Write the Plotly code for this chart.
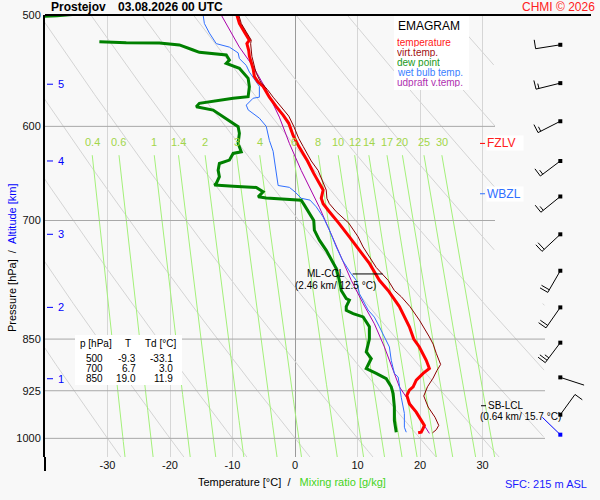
import numpy as np
import plotly.graph_objects as go

# ---------------- data ----------------
STATION = "Prostejov"
RUN_TIME = "03.08.2026 00 UTC"
COPYRIGHT = "CHMI © 2026"

temp_p = [500, 507, 514, 521, 524, 530, 535, 546, 553, 558, 562, 572, 581, 589, 597,
          609, 620, 635, 648, 659, 666, 675, 681, 690, 700, 703, 719, 735, 751, 772,
          785, 806, 833, 850, 861, 880, 892, 899, 909, 919, 924, 932, 945, 958, 971,
          979, 984, 990, 991]
temp_T = [-9.3, -8.9, -8.1, -7.3, -7.7, -7.4, -7.3, -6.7, -6.5, -5.9, -5.1, -4.1, -3.0, -1.9, -1.0,
          -0.3, 0.6, 2.0, 3.0, 3.9, 4.5, 4.2, 4.5, 5.5, 6.7, 7.0, 8.7, 10.3, 11.9, 13.5,
          14.9, 16.7, 18.3, 19.0, 19.9, 21.0, 21.5, 20.5, 19.4, 18.9, 18.3, 17.9, 18.3, 19.4, 20.2,
          20.7, 20.5, 20.2, 19.7]

tv_p = [500, 507, 514, 521, 524, 530, 535, 546, 550, 558, 565, 572, 581, 590, 600,
        612, 620, 635, 645, 659, 666, 675, 681, 690, 703, 719, 731, 756, 772, 785,
        793, 806, 824, 847, 857, 870, 886, 895, 906, 919, 933, 950, 966, 979, 986, 991]
tv_T = [-9.0, -8.6, -7.8, -7.0, -7.1, -7.0, -6.9, -6.4, -6.2, -5.5, -4.4, -3.5, -2.3, -1.0, -0.2,
        0.6, 1.3, 2.6, 3.7, 4.5, 5.0, 5.1, 5.5, 6.6, 8.6, 10.1, 10.9, 13.0, 14.9, 15.9,
        17.0, 18.4, 19.9, 21.5, 22.1, 22.6, 23.3, 22.7, 22.1, 21.2, 20.6, 21.3, 22.4, 23.0, 22.6, 22.0]

dew_p = [498.5, 499.2, 500.6, 501.5, None,
         522.4, 523.2, 523.4, 525.1, 529.5, 531.5, 533.8, 538.3, 541.2, 545.6, 554.6, 562.3,
         571.6, 573.1, 577.8, 581.1, 584.2, 590.6, 597.1, 600.4, 606.9, 617.0, 625.5, 627.2,
         634.1, 637.6, 644.6, 651.6, 658.8, 660.6, 661.7, 663.1, 667.9, 673.4, 674.6, 676.4,
         677.1, 682.6, 695.8, 700, 711.2, 722.9, 735, 746.9, 757.2, 772, 785, 788.9, 795.4,
         797.6, 806, 810.8, 815.2, 819.7, 833, 850, 868, 877.5, 892, 899, 906.8, 919, 929.4,
         950, 971, 990]
dew_T = [-33.0, -34.5, -38.1, -41.5, None,
         -31.3, -27.0, -21.7, -18.5, -16.3, -15.3, -11.0, -10.5, -11.0, -8.9, -7.5, -7.3,
         -7.5, -9.9, -15.3, -15.8, -13.1, -11.5, -9.9, -9.1, -8.9, -9.1, -8.6, -9.9,
         -10.5, -12.1, -12.3, -12.1, -12.6, -12.9, -9.9, -6.2, -5.1, -5.9, -4.6, -0.3,
         1.0, 1.5, 2.6, 3.0, 3.1, 3.9, 5.0, 5.8, 6.6, 7.1, 7.4, 7.7, 8.2,
         8.7, 8.2, 8.2, 9.3, 10.9, 11.9, 11.9, 11.4, 12.2, 11.4, 13.0, 14.6, 15.4, 15.7,
         15.9, 15.9, 16.2]

wb_p = [500, 507, 515, 524, 527, 532, 537, 543, 549, 556, 562, 572, 573, 579.5, 584,
        592, 600, 614, 625, 634, 648, 661, 663, 668, 675, 677, 684.5, 696, 711, 731,
        747, 763, 772, 789, 810.5, 820, 833, 847, 861, 880, 899, 904.5, 919, 935, 960,
        982, 990]
wb_T = [-14.7, -14.5, -13.7, -12.6, -10.5, -9.1, -8.9, -7.8, -7.3, -6.5, -5.7, -5.7, -6.7, -7.8, -7.5,
        -5.7, -4.6, -4.1, -3.5, -3.3, -3.0, -2.7, -0.9, 0.0, 1.0, 2.4, 3.4, 4.5, 5.5, 6.6,
        7.6, 8.9, 9.8, 10.3, 11.7, 12.7, 13.5, 14.3, 15.1, 15.4, 15.9, 16.5, 16.7, 17.0, 17.5,
        17.5, 17.8]

upd_p = [500, 527, 544, 565, 591, 617, 645, 685, 711, 739, 772, 802, 829, 861, 894,
         919, 939, 966, 992]
upd_T = [-11.8, -8.9, -6.7, -4.6, -2.5, -0.9, 1.0, 3.9, 5.5, 7.1, 9.0, 10.9, 12.7, 14.3, 15.7,
         16.7, 18.1, 19.9, 21.5]

mixing_ratios = [0.4, 0.6, 1, 1.4, 2, 3, 4, 6, 8, 10, 12, 14, 17, 20, 25, 30]
theta_C = [-30, -20, -10, 0, 10, 20, 30, 40, 50, 60, 70, 80, 90]
isobars = [600, 700, 850, 925, 1000]
isobar_labels = ["500", "600", "700", "850", "925", "1000"]
isobar_ticks = [500, 600, 700, 850, 925, 1000]
temp_ticks = [-30, -20, -10, 0, 10, 20, 30]

alt_km = [1, 2, 3, 4, 5]
alt_p = [907, 807, 716, 635, 560]

barb_p = [525, 559, 595, 635, 673, 716, 760, 807, 855, 905, 962, 994]
barb_dir = [261, 256, 243, 233, 231, 227, 210, 215, 217, 108, 36, 314]
barb_kt = [10, 15, 15, 15, 15, 20, 20, 20, 25, 0, 10, 0]

table_p = [500, 700, 850]
table_T = [-9.3, 6.7, 19.0]
table_Td = [-33.1, 3.0, 11.9]

fzlv_p = 617
wbzl_p = 670
ccl_km, ccl_T, ccl_p = 2.46, 12.5, 764
lcl_km, lcl_T, lcl_p = 0.64, 15.7, 948
sfc_m = 215

# ---------------- geometry ----------------
W, H = 600, 500
ML, MR, MT, MB = 45, 9, 15, 43
PW, PH = W - ML - MR, H - MT - MB
X_RANGE = [-40, -40 + PW / 6.25]
P_TOP, P_BOT = 500, 1031
XS = PW / (X_RANGE[1] - X_RANGE[0])                # px per degC
YS = PH / (np.log10(P_BOT) - np.log10(P_TOP))      # px per decade
BARB_T = 42.45


def px(x):
    return (x - ML) / PW


def py(y):
    return (MT + PH - y) / PH


def x2T(x):
    return X_RANGE[0] + (x - ML) / XS


def nz(a):
    return [None if (v is None or (isinstance(v, float) and np.isnan(v))) else float(v) for v in a]


def td_from_w(w, p):
    e = w * p / (622.0 + w)
    l = np.log(e / 6.112)
    return 243.5 * l / (17.67 - l)


fig = go.Figure()

# dry adiabats
ax, ay = [], []
pf = np.geomspace(P_TOP, P_BOT, 240)
for th in theta_C:
    T = (th + 273.15) * (pf / 1000.0) ** 0.2857 - 273.15
    tmax = np.where(pf >= 800, 40, 32)
    T = np.where(T <= tmax, T, np.nan)
    ax += nz(T) + [None]
    ay += list(pf) + [None]
fig.add_trace(go.Scatter(x=ax, y=ay, mode="lines", line=dict(color="#d4d4d4", width=1),
                         hoverinfo="skip", connectgaps=False))

# mixing ratio lines
mx, my = [], []
pm = np.geomspace(629, 1040, 60)
for w in mixing_ratios:
    mx += nz(td_from_w(w, pm)) + [None]
    my += list(pm) + [None]
fig.add_trace(go.Scatter(x=mx, y=my, mode="lines", line=dict(color="#a4f07a", width=1),
                         hoverinfo="skip"))

# isobars
for p in isobars:
    tend = 32 if p < 800 else 40
    fig.add_trace(go.Scatter(x=[X_RANGE[0], tend], y=[p, p], mode="lines",
                             line=dict(color="#a8a8a8", width=1), hoverinfo="skip"))

# profiles
fig.add_trace(go.Scatter(x=upd_T, y=upd_p, mode="lines", line=dict(color="#aa00aa", width=1)))
fig.add_trace(go.Scatter(x=wb_T, y=wb_p, mode="lines", line=dict(color="#2f6fff", width=1)))
fig.add_trace(go.Scatter(x=dew_T, y=dew_p, mode="lines", line=dict(color="#008000", width=3),
                         connectgaps=False))
fig.add_trace(go.Scatter(x=temp_T, y=temp_p, mode="lines", line=dict(color="#ff0000", width=3)))
fig.add_trace(go.Scatter(x=tv_T, y=tv_p, mode="lines", line=dict(color="#8b0000", width=1)))

# altitude ticks
for km, p in zip(alt_km, alt_p):
    fig.add_trace(go.Scatter(x=[x2T(47), x2T(53)], y=[p, p], mode="lines",
                             line=dict(color="#0000ff", width=1), hoverinfo="skip"))


# wind barbs
def to_data(p0, dx, dy):
    return BARB_T + dx / XS, p0 * 10 ** (dy / YS)


for i, (p, d, s) in enumerate(zip(barb_p, barb_dir, barb_kt)):
    r = np.deg2rad(d)
    sx, sy = np.sin(r), -np.cos(r)
    fx, fy = -sy, sx
    L = 25.0
    segs = [((0, 0), (sx * L, sy * L))]
    pos = 0.0
    for _ in range(int(s // 10)):
        bx, by = sx * (L - pos), sy * (L - pos)
        segs.append(((bx, by), (bx + fx * 9, by + fy * 9)))
        pos += 3
    if s % 10 >= 5:
        bx, by = sx * (L - pos), sy * (L - pos)
        segs.append(((bx, by), (bx + fx * 5, by + fy * 5)))
    bxs, bys = [], []
    for (a, b) in segs:
        t1, p1 = to_data(p, *a)
        t2, p2 = to_data(p, *b)
        bxs += [t1, t2, None]
        bys += [p1, p2, None]
    col = "#0000ff" if i == len(barb_p) - 1 else "#000000"
    fig.add_trace(go.Scatter(x=bxs, y=bys, mode="lines", line=dict(color=col, width=1),
                             hoverinfo="skip"))
    fig.add_trace(go.Scatter(x=[BARB_T], y=[p], mode="markers",
                             marker=dict(symbol="square", size=4, color=col), hoverinfo="skip"))

# level marks
fig.add_trace(go.Scatter(x=[x2T(480), x2T(485)], y=[fzlv_p, fzlv_p], mode="lines",
                         line=dict(color="#ff0000", width=1)))
fig.add_trace(go.Scatter(x=[x2T(480), x2T(485)], y=[wbzl_p, wbzl_p], mode="lines",
                         line=dict(color="#2f6fff", width=1)))
fig.add_trace(go.Scatter(x=[ccl_T - 20.5 / XS, ccl_T + 9.5 / XS], y=[ccl_p, ccl_p], mode="lines",
                         line=dict(color="#000000", width=1)))
fig.add_trace(go.Scatter(x=[x2T(481), x2T(486)], y=[lcl_p, lcl_p], mode="lines",
                         line=dict(color="#000000", width=1)))

FONT = "Liberation Sans, Arial, sans-serif"
ann = []


def A(text, x, y, size=11, color="#000000", xanchor="left", **kw):
    d = dict(text=text, x=px(x), y=py(y), xref="paper", yref="paper", showarrow=False,
             xanchor=xanchor, yanchor="middle", font=dict(family=FONT, size=size, color=color))
    d.update(kw)
    ann.append(d)


def AP(text, x, p, size=11, color="#000000", xanchor="left", **kw):
    d = dict(text=text, x=px(x), y=np.log10(p), xref="paper", yref="y", showarrow=False,
             xanchor=xanchor, yanchor="middle", font=dict(family=FONT, size=size, color=color))
    d.update(kw)
    ann.append(d)


# titles
A("<b>%s</b>" % STATION, 49, 7, size=12)
A("<b>%s</b>" % RUN_TIME, 116, 7, size=12)
A(COPYRIGHT, 597, 7, size=12, color="#ff2020", xanchor="right")

# legend
A("EMAGRAM", 396, 26, size=12)
for k, (t, c) in enumerate([("temperature", "#ff2020"), ("virt.temp.", "#a01010"),
                            ("dew point", "#1a9a1a"), ("wet bulb temp.", "#3a80ff"),
                            ("udpraft v.temp.", "#b030b0")]):
    A(t, 396, 42 + 10 * k, size=10, color=c, height=10, borderpad=0)

# mixing ratio labels
for w in mixing_ratios:
    ann.append(dict(text="%g" % w, x=float(td_from_w(w, 629)), y=np.log10(616), xref="x", yref="y",
                    showarrow=False, xanchor="center", yanchor="middle",
                    font=dict(family=FONT, size=11, color="#a2d64a")))

# altitude labels
for km, p in zip(alt_km, alt_p):
    AP(str(km), 56, p, size=11, color="#0000ff")

# freezing levels
AP("FZLV", 485.5, fzlv_p, size=12, color="#ff2020", bgcolor="#ffffff", width=36, align="left",
   borderpad=0)
AP("WBZL", 485.5, wbzl_p, size=12, color="#2f6fff", bgcolor="#ffffff", width=36, align="left",
   borderpad=0)

# CCL / LCL
AP("ML-CCL", 326, ccl_p, size=10, xanchor="center")
A("(%.2f km/ %.1f °C)" % (ccl_km, ccl_T), 335, 285, size=10, xanchor="center")
AP("SB-LCL", 486, lcl_p, size=10)
A("(%.2f km/ %.1f °C)" % (lcl_km, lcl_T), 520, 416.5, size=10, xanchor="center")

# table
A("p [hPa]", 78, 343, size=10)
A("T", 127.5, 343, size=10, xanchor="center")
A("Td [°C]", 143, 343, size=10)
for k, (p, t, td) in enumerate(zip(table_p, table_T, table_Td)):
    yy = 358 + 10 * k
    A("%d" % p, 94, yy, size=10, xanchor="center", height=10, borderpad=0)
    A("%.1f" % t, 137, yy, size=10, xanchor="right", height=10, borderpad=0)
    A("%.1f" % td, 174, yy, size=10, xanchor="right", height=10, borderpad=0)

# axis titles
A("Pressure [hPa]&nbsp;&nbsp;/&nbsp;&nbsp;<span style='color:#0000ff'>Altitude [km]</span>",
  12, 258, size=11, xanchor="center", textangle=-90)
A("Temperature [°C]&nbsp;&nbsp;/&nbsp;&nbsp;&nbsp;<span style='color:#44d422'>Mixing ratio [g/kg]</span>",
  292, 482, size=11, xanchor="center")
A("SFC: %d m ASL" % sfc_m, 589, 484, size=11, color="#1a1aff", xanchor="right")

shapes = [
    dict(type="rect", xref="paper", yref="paper", x0=px(394), x1=px(469), y0=py(90), y1=py(15.5),
         fillcolor="#ffffff", line=dict(width=0), layer="above"),
    dict(type="rect", xref="paper", yref="paper", x0=px(75), x1=px(182), y0=py(385), y1=py(335),
         fillcolor="#ffffff", line=dict(width=0), layer="above"),
    dict(type="line", xref="paper", yref="paper", x0=0, x1=1, y0=1, y1=1,
         line=dict(color="#000000", width=2), layer="above"),
    dict(type="line", xref="paper", yref="paper", x0=0, x1=0, y0=py(457), y1=py(471),
         line=dict(color="#000000", width=2), layer="above"),
]

fig.update_layout(
    width=W, height=H, margin=dict(l=ML, r=MR, t=MT, b=MB, pad=0),
    paper_bgcolor="#f8f8f8", plot_bgcolor="#f8f8f8", showlegend=False,
    font=dict(family=FONT, size=11, color="#111111"),
    annotations=ann, shapes=shapes,
    xaxis=dict(range=X_RANGE, tickvals=temp_ticks, ticktext=[str(t) for t in temp_ticks],
               showgrid=True, gridcolor="#d6d6d6", gridwidth=1, zeroline=True,
               zerolinecolor="#9a9a9a", zerolinewidth=1, showline=False, ticks="",
               tickfont=dict(size=11, color="#111111"), fixedrange=True),
    yaxis=dict(type="log", range=[np.log10(P_BOT), np.log10(P_TOP)], tickvals=isobar_ticks,
               ticktext=isobar_labels, showgrid=False, zeroline=False, showline=True,
               linecolor="#000000", linewidth=2, ticks="", tickfont=dict(size=11, color="#111111"),
               fixedrange=True),
)

fig.write_html("out.html", config={"displayModeBar": False},
               post_script="document.body.style.margin='0';document.body.style.background='#f8f8f8';")
